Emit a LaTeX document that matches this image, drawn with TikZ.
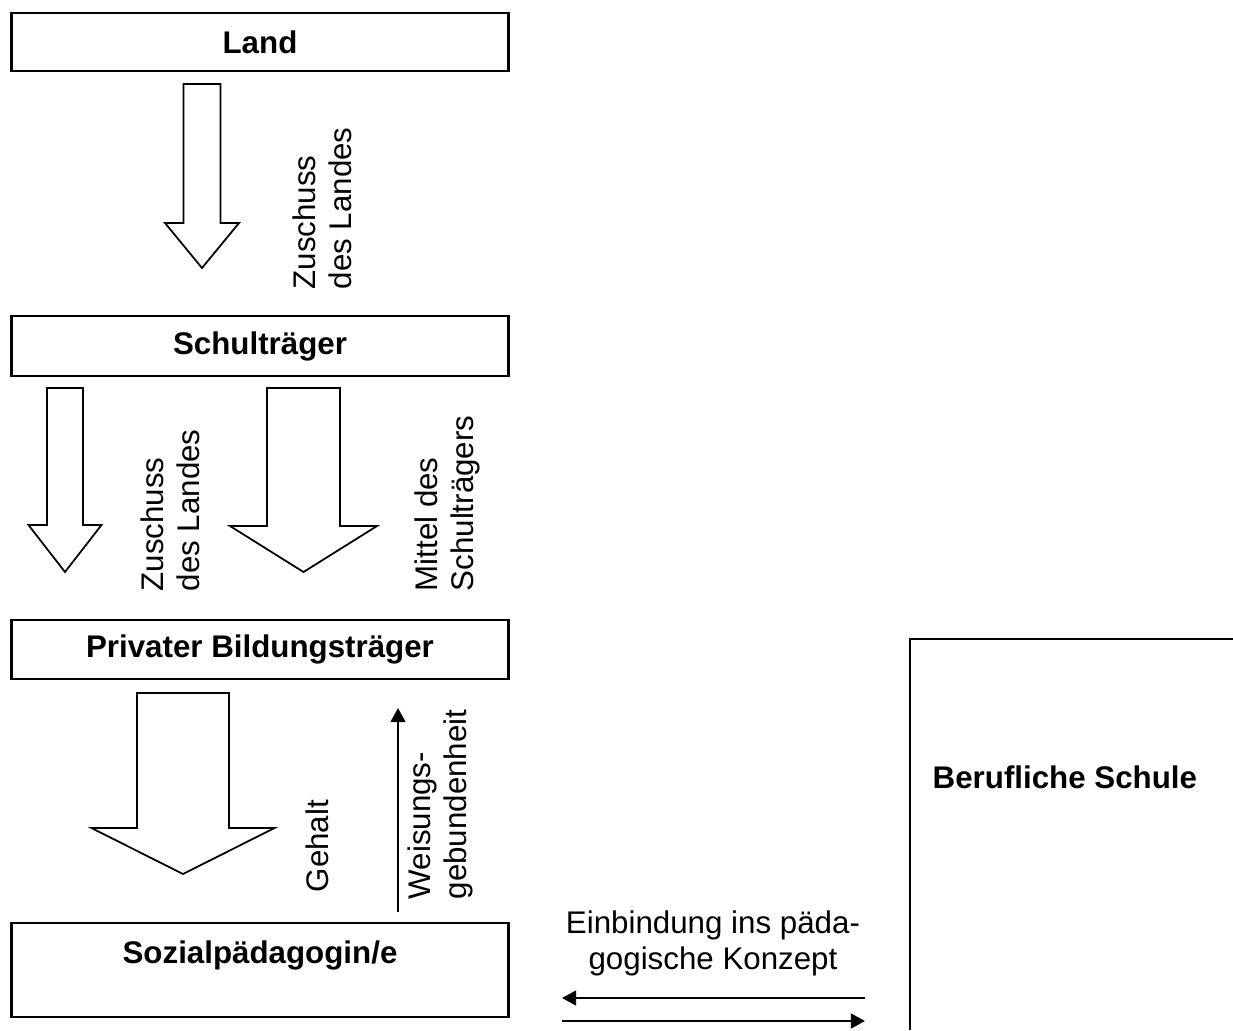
\documentclass[tikz,border=0pt]{standalone}
\usepackage{fontspec}
\setmainfont{Liberation Sans}
\usetikzlibrary{arrows.meta}
\def\figfont{\fontsize{8.9}{10.2}\selectfont}
\def\blockarrow[#1](#2:#3:#4:#5:#6:#7){\draw[#1] ({#2-#6},#3) -- ({#2+#6},#3) -- ({#2+#6},#4) -- ({#2+#7},#4) -- (#2,#5) -- ({#2-#7},#4) -- ({#2-#6},#4) -- cycle;}

\begin{document}
\begin{tikzpicture}[x=0.01cm, y=-0.01cm,
	every node/.style={font=\figfont, inner sep=0pt},
	box/.style={draw, line width=0.8pt, minimum width=4.96cm, font=\figfont\bfseries},
	vlabel/.style={rotate=90, anchor=west, align=left},
	thin/.style={line width=0.6pt, -{Triangle[length=4pt, width=4.2pt]}}]
		%%%%% START %%%%%
		
		\useasboundingbox (0, 0) rectangle (1233, 1030);
		
		\node[box, minimum height=0.58cm] (land) at (260, 42) {Land};
		\node[box, minimum height=0.60cm] (traeger) at (260, 346) {Schulträger};
		\node[box, minimum height=0.59cm] (privat) at (260, 649.5) {Privater Bildungsträger};
		\node[box, minimum height=0.94cm, align=center] (sozial) at (260, 970) {Sozialpädagogin/e\\\mbox{}};
		
		\blockarrow[line width=0.5pt](202:84:223:268:18.5:37);
		\node[vlabel] (zuschuss1) at (322, 290) {Zuschuss\\des Landes};
		
		\blockarrow[line width=0.5pt](65:388:525:572:18:36.5);
		\node[vlabel] (zuschuss2) at (170, 592) {Zuschuss\\des Landes};
		\blockarrow[line width=0.5pt](303.5:388:526:572:36.5:73.5);
		\node[vlabel] (mittel) at (447, 592) {Mittel des\\Schulträgers};
		
		\blockarrow[line width=0.5pt](183:693:828:874:46:91.5);
		\node[vlabel] (gehalt) at (317, 893) {Gehalt};
		
		\coordinate (wfrom) at (398, 912);
		\coordinate (wto) at (398, 708);
		\draw[thin] (wfrom) -- (wto);
		\node[vlabel] (weisung) at (440, 900) {Weisungs-\\gebundenheit};
		
		\draw[line width=0.5pt] (910, 1030) -- (910, 639) -- (1233, 639);
		\node[anchor=west, font=\figfont\bfseries] (schule) at (932, 777) {Berufliche Schule};
		
		\node[align=center] (einbindung) at (713, 943) {Einbindung ins päda-\\gogische Konzept};
		\coordinate (left1) at (562, 998);
		\coordinate (right1) at (865, 998);
		\coordinate (left2) at (562, 1021);
		\coordinate (right2) at (865, 1021);
		\draw[thin] (right1) -- (left1);
		\draw[thin] (left2) -- (right2);
		
		%%%%% END %%%%%
	\end{tikzpicture}
\end{document}
